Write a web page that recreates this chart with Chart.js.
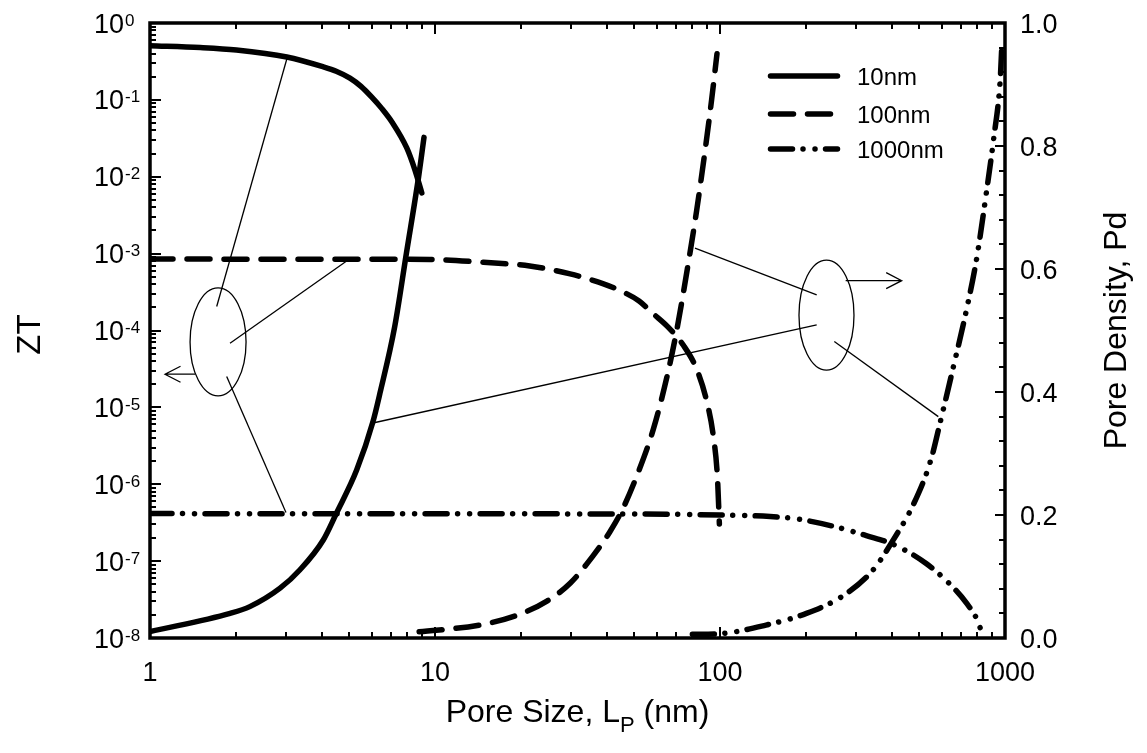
<!DOCTYPE html>
<html>
<head>
<meta charset="utf-8">
<title>ZT and pore density vs pore size</title>
<script src="https://cdn.jsdelivr.net/npm/chart.js@4.4.1/dist/chart.umd.min.js"></script>
<style>
  html, body { margin: 0; padding: 0; background: #ffffff; }
  #chart { display: block; }
</style>
</head>
<body>
<canvas id="chart" width="1147" height="753"></canvas>
<script>
// ---- Data: ZT (left axis) and pore density Pd (right axis) against pore size L_P (nm)
const seriesNames = ['10nm', '100nm', '1000nm'];

const zt10Size = [1, 1.5, 2.01, 3.02, 4.04, 4.5, 5.03, 5.5, 6.0, 6.5, 7.06, 7.96, 8.5, 8.99];
const zt10 = [0.507, 0.48, 0.446, 0.361, 0.270, 0.236, 0.192, 0.150, 0.1085, 0.0775, 0.0516, 0.0237, 0.0123, 0.00615];

const pd10Size = [1, 1.91, 2.24, 2.86, 3.36, 4.05, 4.5, 5.31, 6.06, 6.41, 7.22, 7.94, 8.76, 9.15];
const pd10 = [0.0103, 0.040, 0.051, 0.081, 0.111, 0.159, 0.202, 0.273, 0.352, 0.398, 0.506, 0.626, 0.750, 0.814];

const zt100Size = [1, 5, 9.6, 14.8, 21.5, 29.8, 39.0, 45.0, 52.0, 58.0, 65.9, 74.4, 82.8, 89.8, 94.8, 97.9, 99.5];
const zt100 = [8.5e-4, 8.45e-4, 8.4e-4, 7.7e-4, 6.9e-4, 5.45e-4, 4.05e-4, 3.26e-4, 2.42e-4, 1.68e-4, 1.10e-4, 6.42e-5, 3.15e-5, 1.21e-5, 4.17e-6, 1.27e-6, 3.05e-7];

const pd100Size = [8.8, 14.3, 19.4, 24.7, 29.8, 35.9, 41.0, 45.7, 52.3, 58.4, 65.1, 70.6, 77.5, 82.8, 88.6, 93.5, 97.6];
const pd100 = [0.010, 0.021, 0.037, 0.060, 0.089, 0.134, 0.172, 0.211, 0.276, 0.340, 0.424, 0.502, 0.611, 0.695, 0.792, 0.876, 0.950];

const zt1000Size = [1, 50, 100, 150, 190, 264, 326, 406, 529, 656, 733, 796, 839];
const zt1000 = [4.15e-7, 4.1e-7, 3.98e-7, 3.8e-7, 3.5e-7, 2.7e-7, 2.15e-7, 1.65e-7, 9.3e-8, 4.6e-8, 2.84e-8, 1.77e-8, 1.04e-8];

const pd1000Size = [80, 100, 145, 201, 271, 345, 406, 478, 549, 594, 656, 733, 796, 862, 912, 962, 974];
const pd1000 = [0.006, 0.007, 0.021, 0.040, 0.069, 0.111, 0.160, 0.218, 0.289, 0.353, 0.437, 0.534, 0.618, 0.727, 0.811, 0.908, 0.960];

// ---- Tick labels
const xTickLabels = ['1', '10', '100', '1000'];
const ztTickExponents = ['0', '-1', '-2', '-3', '-4', '-5', '-6', '-7', '-8'];
const pdTickLabels = ['0.0', '0.2', '0.4', '0.6', '0.8', '1.0'];

// ---- Styling
const FONT = '"Liberation Sans", Arial, Helvetica, sans-serif';
const LINE_STYLES = {
  '10nm': [],
  '100nm': [23, 14],
  '1000nm': [22, 10.5, 0.01, 12, 0.01, 10.5]
};

function pairs(xs, ys) { return xs.map((x, i) => ({ x: x, y: ys[i] })); }

function curve(label, xs, ys, axis) {
  return {
    label: label,
    data: pairs(xs, ys),
    yAxisID: axis,
    borderColor: '#000000',
    backgroundColor: '#000000',
    borderWidth: 5.5,
    borderDash: LINE_STYLES[label],
    borderCapStyle: 'round',
    borderJoinStyle: 'round',
    pointRadius: 0,
    fill: false,
    cubicInterpolationMode: 'monotone'
  };
}

// ---- Callout geometry (anchors in data units: [poreSize, value, axis])
const callouts = {
  left: {
    ellipse: { at: [1.733, 7.11e-5, 'y'], rx: 28, ry: 54 },
    leaders: [
      [[1.714, 2.05e-4, 'y'], [3.02, 0.34, 'y']],
      [[1.909, 6.84e-5, 'y'], [4.87, 7.9e-4, 'y']],
      [[1.858, 2.52e-5, 'y'], [3.0, 4.28e-7, 'y']]
    ],
    arrow: [[1.439, 2.7e-5, 'y'], [1.129, 2.7e-5, 'y']]
  },
  right: {
    ellipse: { at: [236.4, 0.525, 'y2'], rx: 27.5, ry: 55 },
    leaders: [
      [[218.4, 0.558, 'y2'], [81.7, 0.634, 'y2']],
      [[218.4, 0.509, 'y2'], [6.11, 0.350, 'y2']],
      [[251.8, 0.482, 'y2'], [583.5, 0.360, 'y2']]
    ],
    arrow: [[276, 0.581, 'y2'], [434, 0.581, 'y2']]
  }
};

const decorations = {
  id: 'decorations',
  afterDatasetsDraw(chart) {
    const ctx = chart.ctx;
    const a = chart.chartArea;
    const sx = chart.scales.x, sy = chart.scales.y, sr = chart.scales.y2;
    const pt = (p) => [sx.getPixelForValue(p[0]), chart.scales[p[2]].getPixelForValue(p[1])];

    ctx.save();
    ctx.strokeStyle = '#000';
    ctx.fillStyle = '#000';
    ctx.lineCap = 'butt';

    // ticks (pointing into the plot) on all four sides
    const MAJ = 11, MIN = 6;
    ctx.lineWidth = 2;
    ctx.beginPath();
    for (let d = 1; d <= 1000; d *= 10) {
      for (let m = 1; m <= (d === 1000 ? 1 : 9); m++) {
        const v = d * m;
        const px = Math.round(sx.getPixelForValue(v));
        const len = m === 1 ? MAJ : MIN;
        ctx.moveTo(px, a.bottom); ctx.lineTo(px, a.bottom - len);
        ctx.moveTo(px, a.top); ctx.lineTo(px, a.top + len);
      }
    }
    for (let e = -8; e <= 0; e++) {
      for (let m = 1; m <= (e === 0 ? 1 : 9); m++) {
        const v = m * Math.pow(10, e);
        const py = Math.round(sy.getPixelForValue(v));
        const len = m === 1 ? MAJ : MIN;
        ctx.moveTo(a.left, py); ctx.lineTo(a.left + len, py);
      }
    }
    for (let k = 0; k <= 25; k++) {
      const v = k * 0.04;
      const py = Math.round(sr.getPixelForValue(v));
      const len = k % 5 === 0 ? MAJ - 1 : MIN;
      ctx.moveTo(a.right, py); ctx.lineTo(a.right - len, py);
    }
    ctx.stroke();

    // frame
    ctx.lineWidth = 3.5;
    ctx.strokeRect(a.left, a.top, a.right - a.left, a.bottom - a.top);

    // bottom tick labels
    ctx.font = '27px ' + FONT;
    ctx.textAlign = 'center';
    ctx.textBaseline = 'alphabetic';
    xTickLabels.forEach((t) => {
      ctx.fillText(t, sx.getPixelForValue(Number(t)), a.bottom + 43);
    });

    // left tick labels: 10 with superscript exponent
    ctx.textAlign = 'left';
    ztTickExponents.forEach((ex) => {
      const py = sy.getPixelForValue(Math.pow(10, Number(ex)));
      ctx.font = '27px ' + FONT;
      const bx = a.left - 56;
      ctx.fillText('10', bx, py + 9.6);
      const w = ctx.measureText('10').width;
      ctx.font = '17px ' + FONT;
      ctx.fillText(ex, bx + w + 1, py + 2.5);
    });

    // right tick labels
    ctx.font = '27px ' + FONT;
    pdTickLabels.forEach((t) => {
      const py = sr.getPixelForValue(Number(t));
      ctx.fillText(t, a.right + 15, py + 9.6);
    });

    // axis titles
    ctx.font = '32px ' + FONT;
    const parts = ['Pore Size, L', 'P', ' (nm)'];
    const w1 = ctx.measureText(parts[0]).width;
    const w3 = ctx.measureText(parts[2]).width;
    ctx.font = '22px ' + FONT;
    const w2 = ctx.measureText(parts[1]).width;
    const cx = (a.left + a.right) / 2;
    let tx = cx - (w1 + w2 + w3) / 2;
    const base = a.bottom + 84;
    ctx.font = '32px ' + FONT;
    ctx.fillText(parts[0], tx, base); tx += w1;
    ctx.font = '22px ' + FONT;
    ctx.fillText(parts[1], tx, base + 10); tx += w2;
    ctx.font = '32px ' + FONT;
    ctx.fillText(parts[2], tx, base);

    ctx.textAlign = 'center';
    ctx.save();
    ctx.translate(28, (a.top + a.bottom) / 2 + 4);
    ctx.rotate(-Math.PI / 2);
    ctx.font = '33px ' + FONT;
    ctx.fillText('ZT', 0, 11.8);
    ctx.restore();

    ctx.save();
    ctx.translate(a.right + 109, (a.top + a.bottom) / 2);
    ctx.rotate(-Math.PI / 2);
    ctx.font = '32px ' + FONT;
    ctx.fillText('Pore Density, Pd', 0, 11.5);
    ctx.restore();

    // legend
    const legX0 = a.right - 237, legX1 = a.right - 165;
    const legY = [a.top + 53, a.top + 91, a.top + 126];
    ctx.lineWidth = 5.5;
    ctx.lineCap = 'round';
    seriesNames.forEach((name, i) => {
      ctx.setLineDash(LINE_STYLES[name]);
      ctx.beginPath();
      ctx.moveTo(legX0 + 2.5, legY[i]);
      ctx.lineTo(legX1 - 2.5, legY[i]);
      ctx.stroke();
    });
    ctx.setLineDash([]);
    ctx.font = '24px ' + FONT;
    ctx.textAlign = 'left';
    seriesNames.forEach((name, i) => {
      ctx.fillText(name, legX1 + 17, legY[i] + 8.6);
    });

    // callouts: ellipses, leader lines and axis arrows
    ctx.lineWidth = 1.3;
    ctx.lineCap = 'butt';
    Object.values(callouts).forEach((c) => {
      const [ex, ey] = pt(c.ellipse.at);
      ctx.beginPath();
      ctx.ellipse(ex, ey, c.ellipse.rx, c.ellipse.ry, 0, 0, Math.PI * 2);
      ctx.stroke();
      c.leaders.forEach((ln) => {
        const p0 = pt(ln[0]), p1 = pt(ln[1]);
        ctx.beginPath();
        ctx.moveTo(p0[0], p0[1]);
        ctx.lineTo(p1[0], p1[1]);
        ctx.stroke();
      });
      const s = pt(c.arrow[0]), e = pt(c.arrow[1]);
      const dir = Math.sign(e[0] - s[0]);
      ctx.beginPath();
      ctx.moveTo(s[0], s[1]); ctx.lineTo(e[0], e[1]);
      ctx.moveTo(e[0] - dir * 15.5, e[1] - 8); ctx.lineTo(e[0], e[1]);
      ctx.lineTo(e[0] - dir * 15.5, e[1] + 8);
      ctx.stroke();
    });

    ctx.restore();
  }
};

new Chart(document.getElementById('chart'), {
  type: 'line',
  data: {
    datasets: [
      curve('10nm', zt10Size, zt10, 'y'),
      curve('10nm', pd10Size, pd10, 'y2'),
      curve('100nm', zt100Size, zt100, 'y'),
      curve('100nm', pd100Size, pd100, 'y2'),
      curve('1000nm', zt1000Size, zt1000, 'y'),
      curve('1000nm', pd1000Size, pd1000, 'y2')
    ]
  },
  options: {
    responsive: false,
    animation: false,
    devicePixelRatio: 1,
    events: [],
    layout: { padding: { left: 150, right: 142, top: 23, bottom: 115 } },
    plugins: { legend: { display: false }, tooltip: { enabled: false } },
    scales: {
      x: { type: 'logarithmic', min: 1, max: 1000, display: false },
      y: { type: 'logarithmic', min: 1e-8, max: 1, display: false, position: 'left' },
      y2: { type: 'linear', min: 0, max: 1, display: false, position: 'right' }
    }
  },
  plugins: [decorations]
});
</script>
</body>
</html>
